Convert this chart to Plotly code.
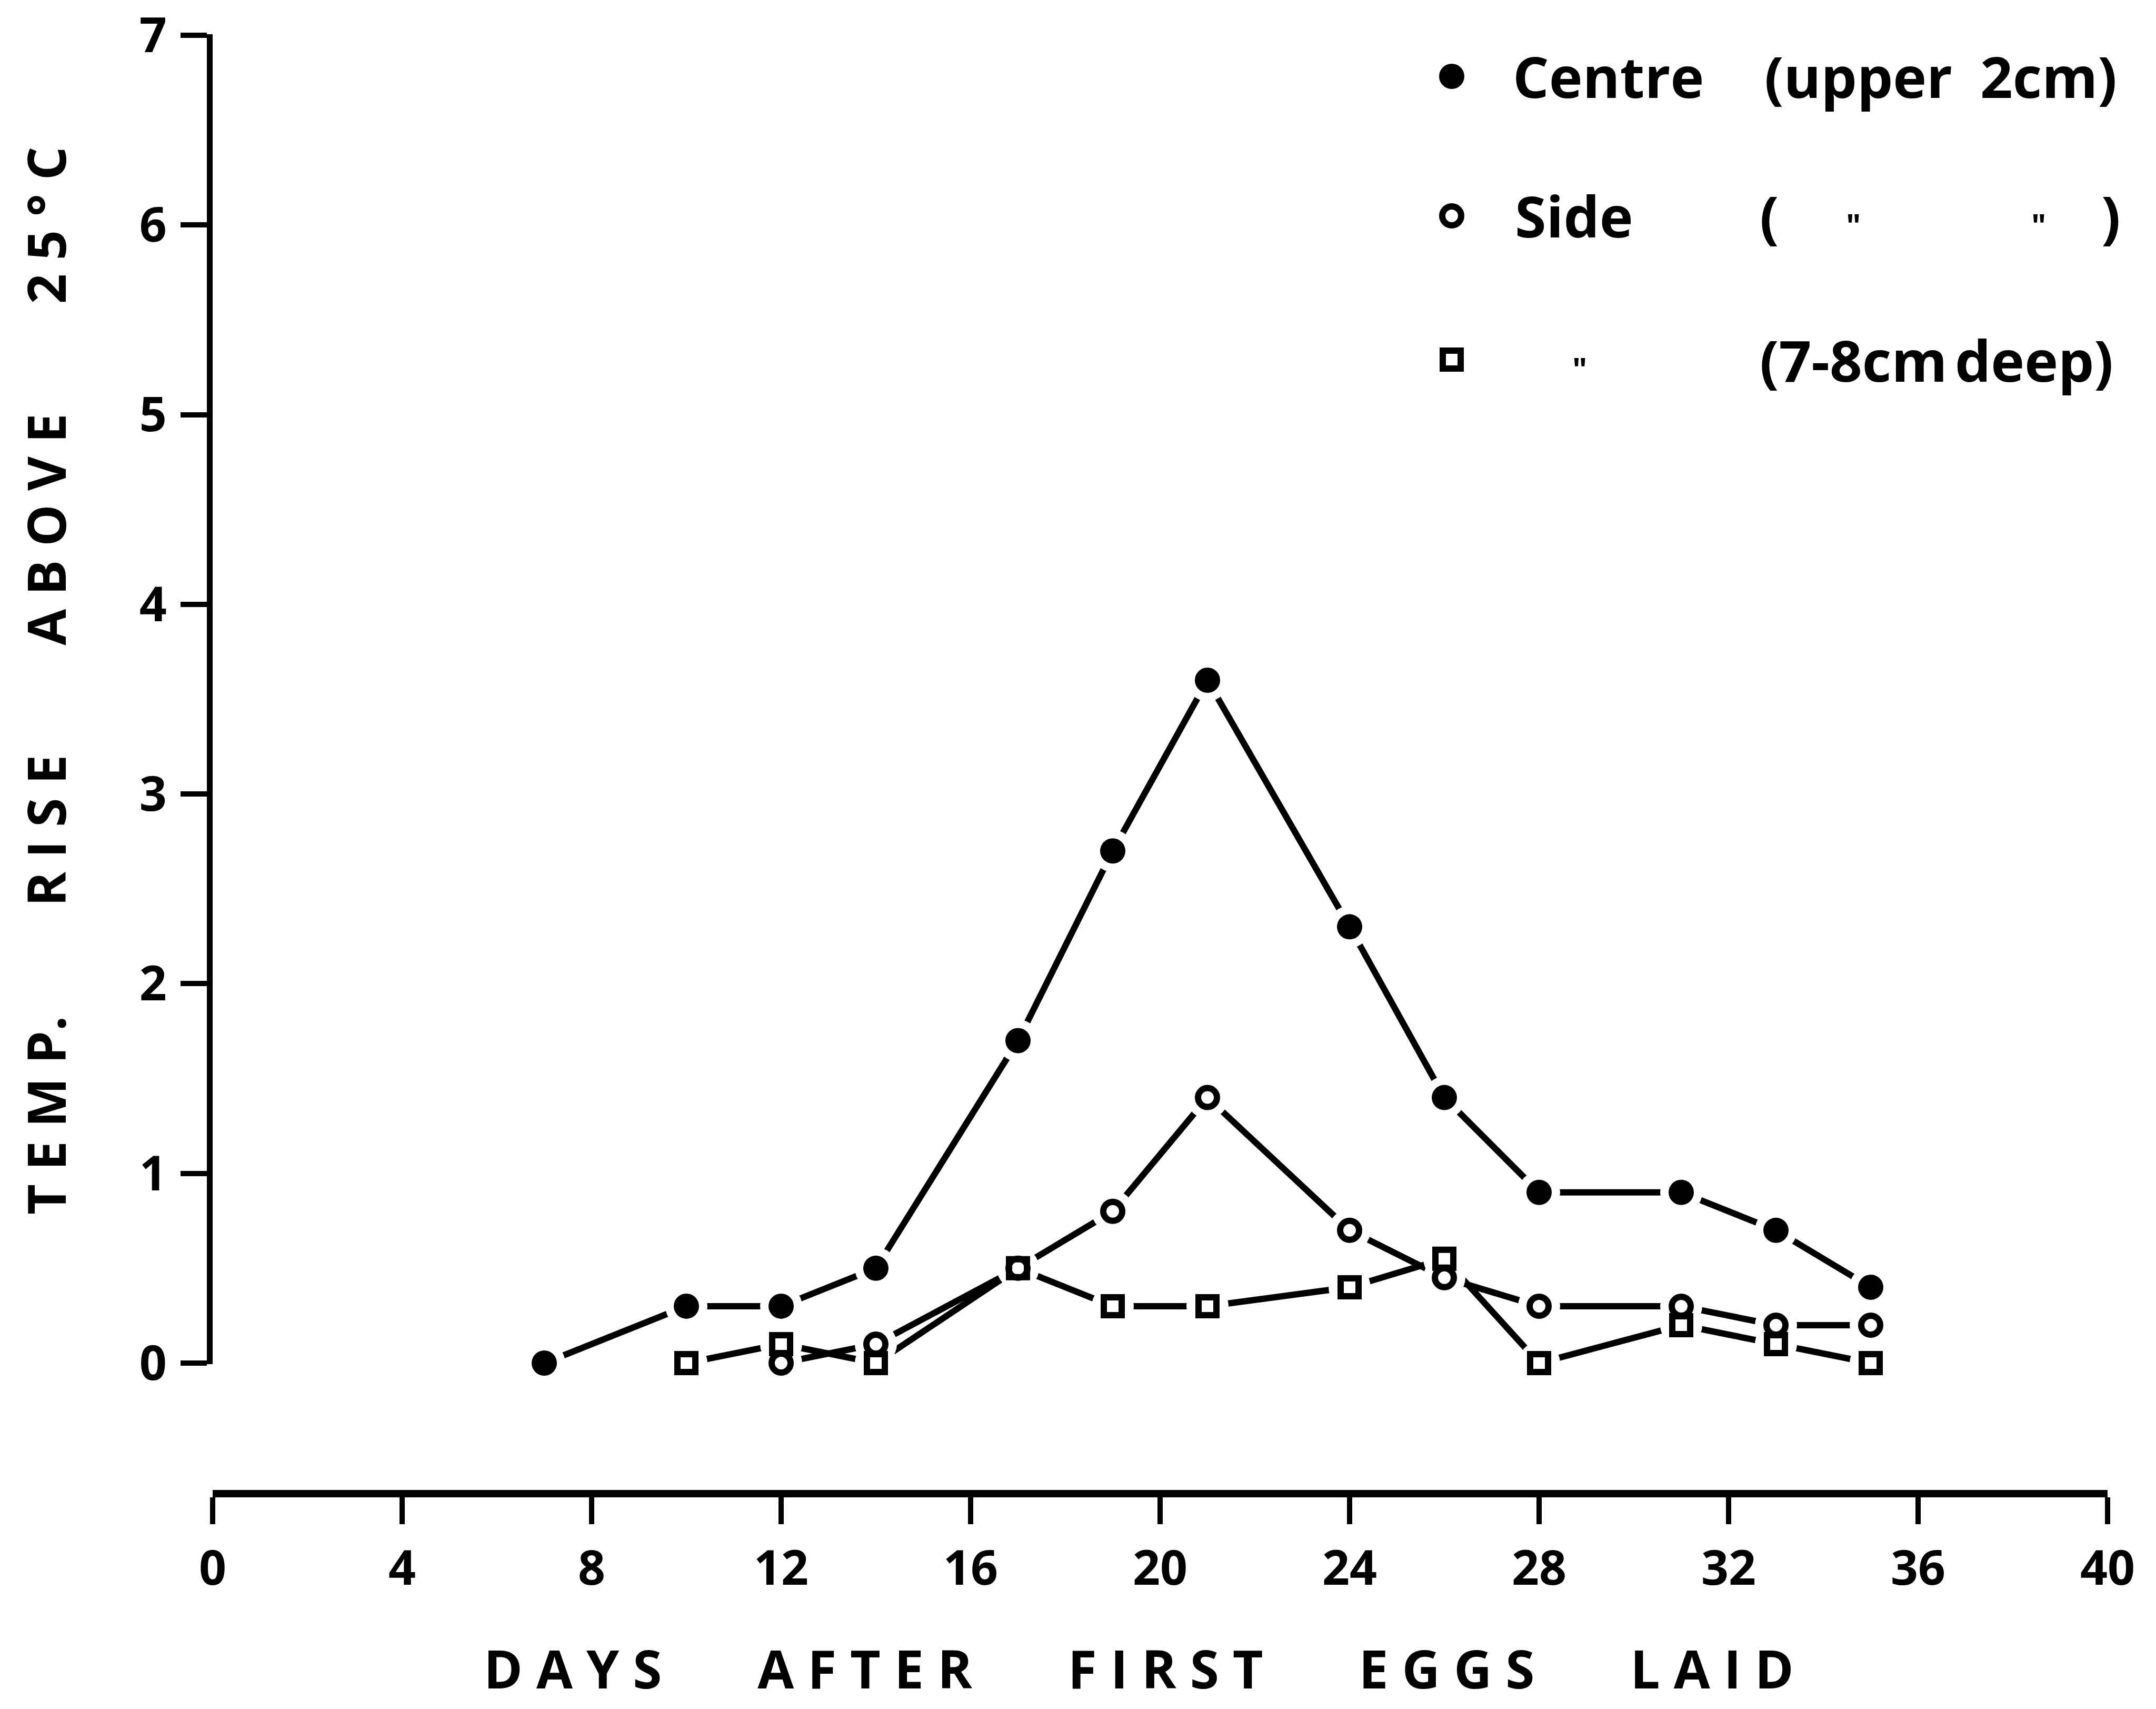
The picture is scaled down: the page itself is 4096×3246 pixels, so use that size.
import plotly.graph_objects as go

# ---- data: temperature rise above 25 °C in the nest mound ----
days_centre = [7, 10, 12, 14, 17, 19, 21, 24, 26, 28, 31, 33, 35]
rise_centre = [0.0, 0.3, 0.3, 0.5, 1.7, 2.7, 3.6, 2.3, 1.4, 0.9, 0.9, 0.7, 0.4]

days_side = [12, 14, 17, 19, 21, 24, 26, 28, 31, 33, 35]
rise_side = [0.0, 0.1, 0.5, 0.8, 1.4, 0.7, 0.45, 0.3, 0.3, 0.2, 0.2]

days_deep = [10, 12, 14, 17, 19, 21, 24, 26, 28, 31, 33, 35]
rise_deep = [0.0, 0.1, 0.0, 0.5, 0.3, 0.3, 0.4, 0.55, 0.0, 0.2, 0.1, 0.0]

x_ticks = list(range(0, 41, 4))
y_ticks = list(range(0, 8))

# ---- page geometry (pixels) ----
W, H = 4096, 3246
X0_PX, X40_PX = 404, 4004
Y0_PX, Y7_PX = 2589, 67
XAXIS_LINE_PX = 2837
Y_PAD = 0.005                      # tiny range padding so the end ticks survive
PX_PER_UNIT = (Y0_PX - Y7_PX) / 7

def fx(px):
    return px / W

def fy(py):
    return 1 - py / H

NB = "\u00a0"
FAMILY = "Open Sans, sans-serif"
TICK_FONT = dict(family=FAMILY, size=91, color="black", weight=700)
TITLE_FONT = dict(family=FAMILY, size=100, color="black", weight=700)
LEG_FONT = dict(family=FAMILY, size=108, color="black", weight=700)
DITTO_FONT = dict(family=FAMILY, size=60, color="black", weight=700)

LINE_W = 12
HALO = 80

series = [
    (days_centre, rise_centre, dict(symbol="circle", size=48, color="black")),
    (days_side, rise_side, dict(symbol="circle-open", size=36, color="black", line=dict(width=12, color="black"))),
    (days_deep, rise_deep, dict(symbol="square-open", size=34, color="black", line=dict(width=12, color="black"))),
]

fig = go.Figure()

# connecting lines
for xs, ys, _ in series:
    fig.add_trace(go.Scatter(x=xs, y=ys, mode="lines", line=dict(color="black", width=LINE_W),
                             cliponaxis=False, showlegend=False, hoverinfo="skip"))

# white gaps around every point
for xs, ys, _ in series:
    fig.add_trace(go.Scatter(x=xs, y=ys, mode="markers",
                             marker=dict(symbol="circle", size=HALO, color="white", line=dict(width=0)),
                             cliponaxis=False, showlegend=False, hoverinfo="skip"))

# point symbols
for xs, ys, mk in series:
    fig.add_trace(go.Scatter(x=xs, y=ys, mode="markers", marker=mk,
                             cliponaxis=False, showlegend=False))

# ---- key ----
shapes = []
KEY_X = 2758
key_rows = [145, 410, 683]
shapes.append(dict(type="circle", xref="paper", yref="paper", xsizemode="pixel", ysizemode="pixel",
                   xanchor=fx(KEY_X), yanchor=fy(key_rows[0]), x0=-24, x1=24, y0=-24, y1=24,
                   fillcolor="black", line=dict(width=0)))
shapes.append(dict(type="circle", xref="paper", yref="paper", xsizemode="pixel", ysizemode="pixel",
                   xanchor=fx(KEY_X), yanchor=fy(key_rows[1]), x0=-18, x1=18, y0=-18, y1=18,
                   fillcolor="white", line=dict(width=12, color="black")))
shapes.append(dict(type="rect", xref="paper", yref="paper", xsizemode="pixel", ysizemode="pixel",
                   xanchor=fx(KEY_X), yanchor=fy(key_rows[2]), x0=-17, x1=17, y0=-17, y1=17,
                   fillcolor="white", line=dict(width=12, color="black")))

ann = []

def label(text, px, py, font=LEG_FONT, **kw):
    ann.append(dict(text=text, x=fx(px), y=fy(py), xref="paper", yref="paper",
                    xanchor=kw.get("xanchor", "left"), yanchor="middle", showarrow=False,
                    font=font, textangle=kw.get("textangle", 0)))

label("Centre", 2872, key_rows[0])
label("(upper", 3350, key_rows[0])
label("2cm)", 3760, key_rows[0])

label("Side", 2876, key_rows[1])
label("(", 3341, key_rows[1])
label('"', 3505, key_rows[1] + 18, font=DITTO_FONT)
label('"', 3857, key_rows[1] + 18, font=DITTO_FONT)
label(")", 3990, key_rows[1])

label('"', 2985, key_rows[2] + 18, font=DITTO_FONT)
label("(7-8cm", 3341, key_rows[2])
label("deep)", 3712, key_rows[2])

# axis titles (letter-spaced)
def spaced(words, gap):
    return (NB * gap).join(NB.join(list(w)) for w in words)

x_title = spaced(["DAYS", "AFTER", "FIRST", "EGGS", "LAID"], 7)
y_title = spaced(["TEMP.", "RISE", "ABOVE", "25°C"], 8).replace("P" + NB + ".", "P.")

label(x_title, 2163, 3168, font=TITLE_FONT, xanchor="center")
label(y_title, 86, 1293, font=TITLE_FONT, xanchor="center", textangle=-90)

fig.update_layout(
    width=W, height=H,
    margin=dict(l=0, r=0, t=0, b=0),
    paper_bgcolor="white", plot_bgcolor="white",
    showlegend=False,
    shapes=shapes,
    annotations=ann,
    xaxis=dict(
        domain=[fx(X0_PX), fx(X40_PX)], range=[0, 40],
        anchor="free", position=fy(XAXIS_LINE_PX),
        tickmode="array", tickvals=x_ticks, ticktext=[str(v) for v in x_ticks],
        ticks="outside", ticklen=51, tickwidth=10, tickcolor="black",
        showline=True, linewidth=14, linecolor="black",
        showgrid=False, zeroline=False, tickfont=TICK_FONT, ticklabelstandoff=6,
        automargin=False,
    ),
    yaxis=dict(
        domain=[fy(Y0_PX + Y_PAD * PX_PER_UNIT), fy(Y7_PX - Y_PAD * PX_PER_UNIT)],
        range=[-Y_PAD, 7 + Y_PAD],
        anchor="x",
        tickmode="array", tickvals=y_ticks, ticktext=[str(v) for v in y_ticks],
        ticks="outside", ticklen=50, tickwidth=10, tickcolor="black",
        showline=True, linewidth=11, linecolor="black",
        showgrid=False, zeroline=False, tickfont=TICK_FONT, ticklabelstandoff=8,
        automargin=False,
    ),
)

fig.write_html("out.html")
